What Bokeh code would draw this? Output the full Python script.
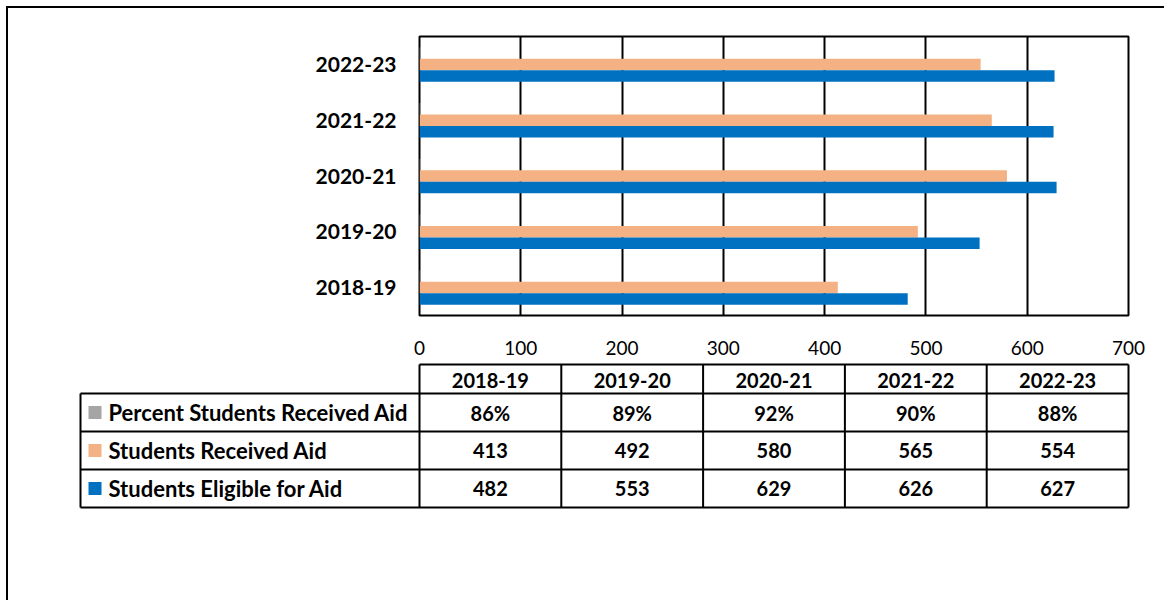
from bokeh.plotting import figure
from bokeh.models import Range1d, FactorRange, FixedTicker, ColumnDataSource
from bokeh.layouts import column
from bokeh.transform import dodge
from bokeh.core.properties import value
from bokeh.embed import file_html
from bokeh.resources import INLINE

years = ["2018-19", "2019-20", "2020-21", "2021-22", "2022-23"]
percent_received = [0.86, 0.89, 0.92, 0.90, 0.88]
students_received = [413, 492, 580, 565, 554]
students_eligible = [482, 553, 629, 626, 627]
series_names = ["Percent Students Received Aid", "Students Received Aid", "Students Eligible for Aid"]
series_colors = ["#A5A5A5", "#F4B183", "#0070C0"]
x_ticks = [0, 100, 200, 300, 400, 500, 600, 700]

FONT = "Lato"

# ---------------- bar chart ----------------
W = 1156
frame_left_page, frame_right_page = 419, 1128
frame_top_page, frame_bottom_page = 36, 315
origin_x, origin_y = 8, 8
hA = 354

p = figure(width=W, height=hA, y_range=FactorRange(*years), x_range=Range1d(0, 700),
           output_backend="svg", toolbar_location=None,
           min_border_left=frame_left_page - origin_x,
           min_border_right=W - (frame_right_page - origin_x),
           min_border_top=frame_top_page - origin_y,
           min_border_bottom=hA - (frame_bottom_page - origin_y))
p.frame_align = False

src = ColumnDataSource(dict(year=years, pct=percent_received, rec=students_received, eli=students_eligible))
bh = 0.206
p.hbar(y=dodge("year", bh, range=p.y_range), right="pct", left=0, height=bh, source=src,
       color=series_colors[0], line_color=None)
p.hbar(y=dodge("year", 0, range=p.y_range), right="rec", left=0, height=bh, source=src,
       color=series_colors[1], line_color=None)
p.hbar(y=dodge("year", -bh, range=p.y_range), right="eli", left=0, height=bh, source=src,
       color=series_colors[2], line_color=None)

p.outline_line_color = "black"
p.outline_line_width = 2
p.xgrid.grid_line_color = "black"
p.xgrid.grid_line_width = 2
p.ygrid.grid_line_color = None
p.xaxis.ticker = FixedTicker(ticks=x_ticks)
p.xaxis.axis_line_color = None
p.xaxis.major_tick_line_color = None
p.xaxis.minor_tick_line_color = None
p.xaxis.major_tick_out = 0
p.xaxis.major_label_standoff = 25
p.xaxis.major_label_text_font = FONT
p.xaxis.major_label_text_font_size = "19px"
p.xaxis.major_label_text_color = "black"
p.yaxis.axis_line_color = None
p.yaxis.major_tick_line_color = None
p.yaxis.major_tick_out = 0
p.yaxis.major_label_standoff = 23
p.yaxis.major_label_text_font = FONT
p.yaxis.major_label_text_font_style = "bold"
p.yaxis.major_label_text_font_size = "21px"
p.yaxis.major_label_text_color = "black"

# ---------------- data table ----------------
hB = 238
tb_origin_y = origin_y + hA
col_w = (frame_right_page - frame_left_page) / len(years)
x0 = (origin_x - frame_left_page) / col_w
x1 = (origin_x + W - frame_left_page) / col_w
q = figure(width=W, height=hB, x_range=Range1d(x0, x1), y_range=Range1d(hB, 0),
           output_backend="svg", toolbar_location=None, min_border=0)
q.frame_align = False
q.xaxis.visible = False
q.yaxis.visible = False
q.grid.visible = False
q.outline_line_color = None

hdr_top = 364 - tb_origin_y
row_edges = [393 - tb_origin_y, 431 - tb_origin_y, 469 - tb_origin_y, 507 - tb_origin_y]
label_left = (80 - frame_left_page) / col_w
ncol = len(years)

xs0, ys0, xs1, ys1 = [], [], [], []
xs0.append(0); xs1.append(ncol); ys0.append(hdr_top); ys1.append(hdr_top)
for yv in row_edges:
    xs0.append(label_left); xs1.append(ncol); ys0.append(yv); ys1.append(yv)
for k in range(ncol + 1):
    xs0.append(k); xs1.append(k); ys0.append(hdr_top); ys1.append(row_edges[-1])
xs0.append(label_left); xs1.append(label_left); ys0.append(row_edges[0]); ys1.append(row_edges[-1])
q.segment(x0=xs0, y0=ys0, x1=xs1, y1=ys1, line_color="black", line_width=2)

col_centers = [k + 0.5 for k in range(ncol)]
hdr_mid = (hdr_top + row_edges[0]) / 2 + 1
q.text(x=col_centers, y=[hdr_mid] * ncol, text=years, text_align="center", text_baseline="middle",
       text_font=value(FONT), text_font_style="bold", text_font_size="20px", text_color="black")

row_mids = [(row_edges[i] + row_edges[i + 1]) / 2 for i in range(3)]
row_texts = [[f"{round(v * 100)}%" for v in percent_received],
             [str(v) for v in students_received],
             [str(v) for v in students_eligible]]
for i in range(3):
    q.text(x=col_centers, y=[row_mids[i]] * ncol, text=row_texts[i], text_align="center",
           text_baseline="middle", text_font=value(FONT), text_font_style="bold",
           text_font_size="20px", text_color="black")

key_x = (94.5 - frame_left_page) / col_w
q.scatter(x=[key_x] * 3, y=row_mids, marker="square", size=13, color=series_colors, line_color=None)
lab_x = (108 - frame_left_page) / col_w
q.text(x=[lab_x] * 3, y=row_mids, text=series_names, text_align="left", text_baseline="middle",
       text_font=value(FONT), text_font_style="bold", text_font_size="22px", text_color="black")

layout = column(p, q, margin=(6, 0, 0, 6),
                styles={"border-left": "2px solid black", "border-top": "2px solid black"})

open("out.html", "w").write(file_html(layout, INLINE))
